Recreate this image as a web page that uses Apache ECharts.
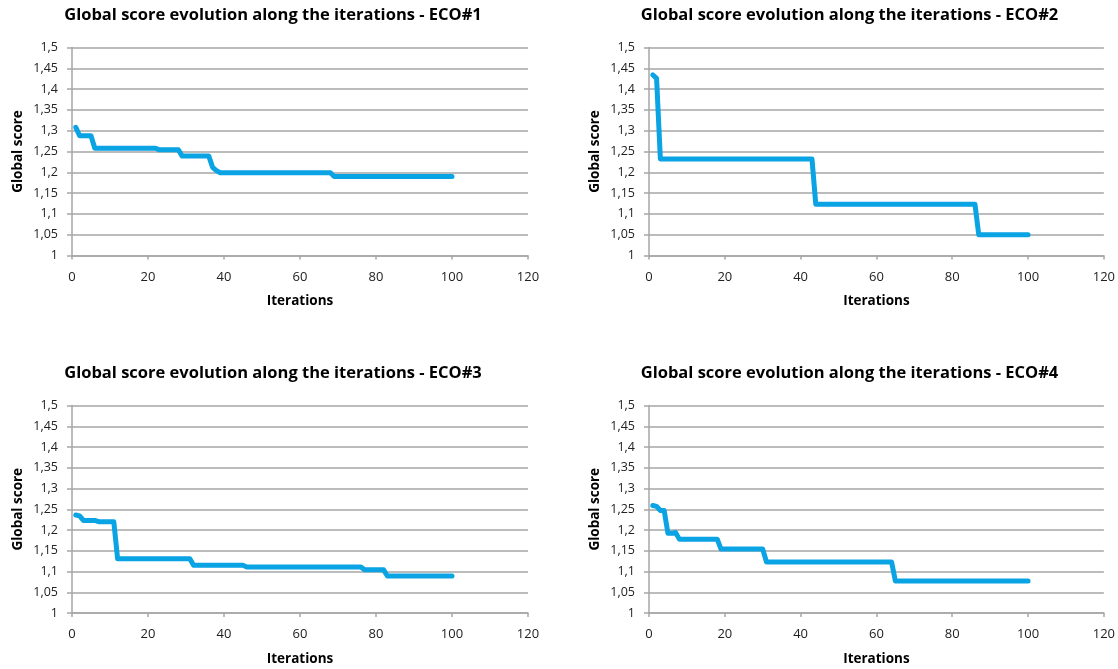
<!DOCTYPE html>
<html>
<head>
<meta charset="utf-8">
<script src="https://cdn.jsdelivr.net/npm/echarts@6/dist/echarts.min.js"></script>
<style>
  html, body { margin: 0; padding: 0; background: #fff; }
  #main { width: 1118px; height: 669px; }
</style>
</head>
<body>
<div id="main"></div>
<script>
// iteration numbers 1..100 (x values)
const iterations = Array.from({ length: 100 }, (_, i) => i + 1);

const titles = [
  'Global score evolution along the iterations - ECO#1',
  'Global score evolution along the iterations - ECO#2',
  'Global score evolution along the iterations - ECO#3',
  'Global score evolution along the iterations - ECO#4'
];

const eco1 = [
  1.308, 1.288, 1.288, 1.288, 1.288, 1.258, 1.258, 1.258, 1.258, 1.258,
  1.258, 1.258, 1.258, 1.258, 1.258, 1.258, 1.258, 1.258, 1.258, 1.258,
  1.258, 1.258, 1.254, 1.254, 1.254, 1.254, 1.254, 1.254, 1.239, 1.239,
  1.239, 1.239, 1.239, 1.239, 1.239, 1.239, 1.212, 1.204, 1.199, 1.199,
  1.199, 1.199, 1.199, 1.199, 1.199, 1.199, 1.199, 1.199, 1.199, 1.199,
  1.199, 1.199, 1.199, 1.199, 1.199, 1.199, 1.199, 1.199, 1.199, 1.199,
  1.199, 1.199, 1.199, 1.199, 1.199, 1.199, 1.199, 1.199, 1.19, 1.19,
  1.19, 1.19, 1.19, 1.19, 1.19, 1.19, 1.19, 1.19, 1.19, 1.19,
  1.19, 1.19, 1.19, 1.19, 1.19, 1.19, 1.19, 1.19, 1.19, 1.19,
  1.19, 1.19, 1.19, 1.19, 1.19, 1.19, 1.19, 1.19, 1.19, 1.19
];

const eco2 = [
  1.434, 1.426, 1.232, 1.232, 1.232, 1.232, 1.232, 1.232, 1.232, 1.232,
  1.232, 1.232, 1.232, 1.232, 1.232, 1.232, 1.232, 1.232, 1.232, 1.232,
  1.232, 1.232, 1.232, 1.232, 1.232, 1.232, 1.232, 1.232, 1.232, 1.232,
  1.232, 1.232, 1.232, 1.232, 1.232, 1.232, 1.232, 1.232, 1.232, 1.232,
  1.232, 1.232, 1.232, 1.123, 1.123, 1.123, 1.123, 1.123, 1.123, 1.123,
  1.123, 1.123, 1.123, 1.123, 1.123, 1.123, 1.123, 1.123, 1.123, 1.123,
  1.123, 1.123, 1.123, 1.123, 1.123, 1.123, 1.123, 1.123, 1.123, 1.123,
  1.123, 1.123, 1.123, 1.123, 1.123, 1.123, 1.123, 1.123, 1.123, 1.123,
  1.123, 1.123, 1.123, 1.123, 1.123, 1.123, 1.05, 1.05, 1.05, 1.05,
  1.05, 1.05, 1.05, 1.05, 1.05, 1.05, 1.05, 1.05, 1.05, 1.05
];

const eco3 = [
  1.236, 1.234, 1.223, 1.223, 1.223, 1.223, 1.22, 1.22, 1.22, 1.22,
  1.22, 1.131, 1.131, 1.131, 1.131, 1.131, 1.131, 1.131, 1.131, 1.131,
  1.131, 1.131, 1.131, 1.131, 1.131, 1.131, 1.131, 1.131, 1.131, 1.131,
  1.131, 1.115, 1.115, 1.115, 1.115, 1.115, 1.115, 1.115, 1.115, 1.115,
  1.115, 1.115, 1.115, 1.115, 1.115, 1.111, 1.111, 1.111, 1.111, 1.111,
  1.111, 1.111, 1.111, 1.111, 1.111, 1.111, 1.111, 1.111, 1.111, 1.111,
  1.111, 1.111, 1.111, 1.111, 1.111, 1.111, 1.111, 1.111, 1.111, 1.111,
  1.111, 1.111, 1.111, 1.111, 1.111, 1.111, 1.104, 1.104, 1.104, 1.104,
  1.104, 1.104, 1.089, 1.089, 1.089, 1.089, 1.089, 1.089, 1.089, 1.089,
  1.089, 1.089, 1.089, 1.089, 1.089, 1.089, 1.089, 1.089, 1.089, 1.089
];

const eco4 = [
  1.259, 1.257, 1.247, 1.247, 1.192, 1.192, 1.194, 1.178, 1.178, 1.178,
  1.178, 1.178, 1.178, 1.178, 1.178, 1.178, 1.178, 1.178, 1.154, 1.154,
  1.154, 1.154, 1.154, 1.154, 1.154, 1.154, 1.154, 1.154, 1.154, 1.154,
  1.123, 1.123, 1.123, 1.123, 1.123, 1.123, 1.123, 1.123, 1.123, 1.123,
  1.123, 1.123, 1.123, 1.123, 1.123, 1.123, 1.123, 1.123, 1.123, 1.123,
  1.123, 1.123, 1.123, 1.123, 1.123, 1.123, 1.123, 1.123, 1.123, 1.123,
  1.123, 1.123, 1.123, 1.123, 1.077, 1.077, 1.077, 1.077, 1.077, 1.077,
  1.077, 1.077, 1.077, 1.077, 1.077, 1.077, 1.077, 1.077, 1.077, 1.077,
  1.077, 1.077, 1.077, 1.077, 1.077, 1.077, 1.077, 1.077, 1.077, 1.077,
  1.077, 1.077, 1.077, 1.077, 1.077, 1.077, 1.077, 1.077, 1.077, 1.077
];

const allSeries = [eco1, eco2, eco3, eco4];

// panel layout in pixels: [left, top, width, height]
const panels = [
  [72, 47.5, 456, 208],
  [649, 47.5, 455, 208],
  [72, 405.5, 456, 207.5],
  [649, 405.5, 455, 207.5]
];

const FONT = '"Open Sans", Lato, sans-serif';
const GRID_GRAY = '#a6a6a6';

const fmt = v => String(+v.toFixed(2)).replace('.', ',');

const chart = echarts.init(document.getElementById('main'));

chart.setOption({
  animation: false,
  backgroundColor: '#fff',
  textStyle: { fontFamily: FONT },
  title: panels.map((p, i) => ({
    text: titles[i],
    left: p[0] + p[2] / 2 - 32,
    top: p[1] - 45.5,
    textAlign: 'center',
    textStyle: { fontFamily: FONT, fontSize: 16.5, fontWeight: 'bold', color: '#000' }
  })),
  grid: panels.map(p => ({
    left: p[0], top: p[1], width: p[2], height: p[3], containLabel: false
  })),
  xAxis: panels.map((p, i) => ({
    type: 'value',
    gridIndex: i,
    min: 0,
    max: 120,
    interval: 20,
    name: 'Iterations',
    nameLocation: 'middle',
    nameGap: 39,
    nameTextStyle: { fontFamily: FONT, fontSize: 13.5, fontWeight: 'bold', color: '#000' },
    axisLine: { show: true, lineStyle: { color: GRID_GRAY, width: 1.5 } },
    axisTick: { show: true, length: 4, lineStyle: { color: GRID_GRAY, width: 1.5 } },
    axisLabel: { margin: 15, fontSize: 13, color: '#222', fontFamily: FONT },
    splitLine: { show: false }
  })),
  yAxis: panels.map((p, i) => ({
    type: 'value',
    gridIndex: i,
    min: 1,
    max: 1.5,
    interval: 0.05,
    name: 'Global score',
    nameLocation: 'middle',
    nameGap: 47,
    nameTextStyle: { fontFamily: FONT, fontSize: 13.5, fontWeight: 'bold', color: '#000' },
    axisLine: { show: true, lineStyle: { color: GRID_GRAY, width: 1.5 } },
    axisTick: { show: true, length: 5, lineStyle: { color: GRID_GRAY, width: 1.5 } },
    axisLabel: { margin: 14, fontSize: 12.5, color: '#222', fontFamily: FONT, formatter: fmt },
    splitLine: { show: true, lineStyle: { color: GRID_GRAY, width: 1.5 } }
  })),
  series: allSeries.map((vals, i) => ({
    type: 'line',
    xAxisIndex: i,
    yAxisIndex: i,
    data: vals.map((v, k) => [iterations[k], v]),
    showSymbol: false,
    lineStyle: { color: '#0aa3e3', width: 5, cap: 'round', join: 'round' },
    itemStyle: { color: '#0aa3e3' }
  }))
});
</script>
</body>
</html>
